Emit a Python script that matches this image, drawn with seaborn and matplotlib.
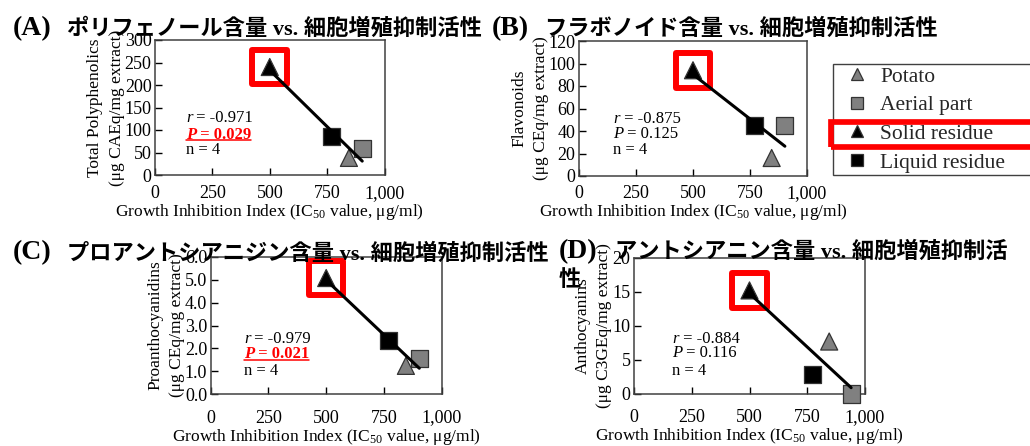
import matplotlib
matplotlib.use("Agg")
import matplotlib.pyplot as plt
import numpy as np
import pandas as pd
import seaborn as sns
from matplotlib.lines import Line2D
from matplotlib.patches import Rectangle

# ---------------- data ----------------
samples = ["Potato", "Aerial part", "Solid residue", "Liquid residue"]
ic50_abc = [845, 903, 500, 770]
ic50_d = [845, 940, 500, 772]
polyphenolics = [38, 58, 240, 85]
flavonoids = [16, 45, 94, 45]
proanthocyanidins = [1.24, 1.57, 5.07, 2.33]
anthocyanins = [7.7, 0.0, 15.2, 2.9]

r_texts = ["-0.971", "-0.875", "-0.979", "-0.884"]
p_texts = ["0.029", "0.125", "0.021", "0.116"]
p_significant = [True, False, True, False]
n_texts = ["4", "4", "4", "4"]

panel_letters = ["(A)", "(B)", "(C)", "(D)"]
panel_titles = ["ポリフェノール含量 vs. 細胞増殖抑制活性",
                "フラボノイド含量 vs. 細胞増殖抑制活性",
                "プロアントシアニジン含量 vs. 細胞増殖抑制活性",
                "アントシアニン含量 vs. 細胞増殖抑制活"]
title_d_wrap = "性"
y_labels = ["Total Polyphenolics\n(μg CAEq/mg extract)",
            "Flavonoids\n(μg CEq/mg extract)",
            "Proanthocyanidins\n(μg CEq/mg extract)",
            "Anthocyanins\n(μg C3GEq/mg extract)"]
x_label = "Growth Inhibition Index (IC$_{50}$ value, μg/ml)"

x_ticks = [0, 250, 500, 750, 1000]
x_tick_labels = ["0", "250", "500", "750", "1,000"]
y_ticks = [[0, 50, 100, 150, 200, 250, 300],
           [0, 20, 40, 60, 80, 100, 120],
           [0, 1, 2, 3, 4, 5, 6],
           [0, 5, 10, 15, 20]]
y_tick_labels = [["0", "50", "100", "150", "200", "250", "300"],
                 ["0", "20", "40", "60", "80", "100", "120"],
                 ["0.0", "1.0", "2.0", "3.0", "4.0", "5.0", "6.0"],
                 ["0", "5", "10", "15", "20"]]

ic50_sets = [ic50_abc, ic50_abc, ic50_abc, ic50_d]
value_sets = [polyphenolics, flavonoids, proanthocyanidins, anthocyanins]

# ---------------- style ----------------
sns.set_theme(style="white")
plt.rcParams["font.family"] = ["Liberation Serif", "Noto Sans CJK JP"]
plt.rcParams["mathtext.fontset"] = "custom"
plt.rcParams["mathtext.rm"] = "Liberation Serif"
plt.rcParams["mathtext.it"] = "Liberation Serif:italic"
plt.rcParams["mathtext.bf"] = "Liberation Serif:bold"
plt.rcParams["axes.unicode_minus"] = False

palette = {"Potato": "#808080", "Aerial part": "#808080",
           "Solid residue": "#000000", "Liquid residue": "#000000"}
markers = {"Potato": "^", "Aerial part": "s",
           "Solid residue": "^", "Liquid residue": "s"}

W, H = 1030, 446
fig = plt.figure(figsize=(W / 100, H / 100), dpi=100)
fig.patch.set_facecolor("white")

axes_px = [(155, 384.5, 40, 175), (579, 807, 41, 176),
           (210.7, 441.7, 256.7, 394.3), (634, 865, 257.7, 394)]
ann_x = [0.135, 0.150, 0.144, 0.165]
ann_y = [(0.389, 0.270, 0.159), (0.395, 0.279, 0.163),
         (0.371, 0.262, 0.141), (0.372, 0.268, 0.139)]
xtick_pads = [7, 6.5, 11, 11]

letter_x = [12.7, 491.7, 12.7, 558.3]
jp_x = [67, 545, 67, 615]
title_base = [35, 35, 259.5, 258.3]

RED = "#ff0000"
underline_pairs = []

for i in range(4):
    l, r, t, b = axes_px[i]
    ax = fig.add_axes([l / W, 1 - b / H, (r - l) / W, (b - t) / H])
    ax.set_facecolor("white")
    df = pd.DataFrame({"sample": samples, "ic50": ic50_sets[i], "value": value_sets[i]})
    solid = df[df["sample"] == "Solid residue"]
    ax.scatter(solid["ic50"], solid["value"], marker="s", s=620, facecolors="none",
               edgecolors=RED, linewidths=4.3, zorder=2, clip_on=False)
    sns.scatterplot(data=df, x="ic50", y="value", hue="sample", style="sample",
                    palette=palette, markers=markers, s=150, edgecolor="#333333",
                    linewidth=0.9, legend=False, ax=ax, zorder=3, clip_on=False)
    sns.regplot(data=df, x="ic50", y="value", scatter=False, ci=None, color="black",
                truncate=True, line_kws=dict(lw=2.2, zorder=4), ax=ax)

    ax.set_xlim(0, 1000)
    ax.set_ylim(y_ticks[i][0], y_ticks[i][-1])
    ax.set_xticks(x_ticks)
    ax.set_xticklabels(x_tick_labels)
    ax.set_yticks(y_ticks[i])
    ax.set_yticklabels(y_tick_labels[i])
    ax.tick_params(axis="both", direction="in", length=5, width=1, colors="#000000",
                   labelsize=13)
    ax.tick_params(axis="x", pad=xtick_pads[i], bottom=True)
    ax.tick_params(axis="y", pad=2.5, left=True)
    for sp in ax.spines.values():
        sp.set_visible(True)
        sp.set_color("#404040")
        sp.set_linewidth(1.1)
    ax.set_xlabel(x_label, fontsize=12.5, labelpad=0, color="black")
    ax.set_ylabel(y_labels[i], fontsize=12.5, labelpad=0, linespacing=1.45, color="black")

    # statistics text
    fs = 12
    ys = ann_y[i]
    t1 = ax.text(ann_x[i], ys[0], "r", transform=ax.transAxes, fontsize=fs,
                 style="italic", va="baseline", color="black")
    ax.annotate(" = " + r_texts[i], xy=(1, 0), xycoords=t1, va="bottom",
                fontsize=fs, color="black")
    if p_significant[i]:
        p1 = ax.text(ann_x[i], ys[1], "P", transform=ax.transAxes, fontsize=fs,
                     style="italic", weight="bold", va="baseline", color=RED)
        p2 = ax.annotate(" = " + p_texts[i], xy=(1, 0), xycoords=p1, va="bottom",
                         fontsize=fs, weight="bold", color=RED)
        underline_pairs.append((p1, p2))
    else:
        p1 = ax.text(ann_x[i], ys[1], "P", transform=ax.transAxes, fontsize=fs,
                     style="italic", va="baseline", color="black")
        ax.annotate(" = " + p_texts[i], xy=(1, 0), xycoords=p1, va="bottom",
                    fontsize=fs, color="black")
    ax.text(ann_x[i], ys[2], "n = " + n_texts[i], transform=ax.transAxes, fontsize=fs,
            va="baseline", color="black")

    # panel titles
    fig.text(letter_x[i] / W, 1 - title_base[i] / H, panel_letters[i], fontsize=20,
             weight="bold", va="baseline", ha="left", color="black", zorder=10)
    fig.text(jp_x[i] / W, 1 - title_base[i] / H, panel_titles[i], fontsize=16,
             weight="bold", va="baseline", ha="left", color="black", zorder=10)

fig.text(letter_x[3] / W, 1 - 286 / H, title_d_wrap, fontsize=16, weight="bold",
         va="baseline", ha="left", color="black", zorder=10)

# legend
handles = [Line2D([], [], marker=markers[s], linestyle="none", color="none",
                  markerfacecolor=palette[s], markeredgecolor="#333333",
                  markeredgewidth=0.9, markersize=8.5) for s in samples]
leg_top, leg_h = 64, 113
leg = fig.legend(handles, samples, loc="upper left",
                 bbox_to_anchor=(832.7 / W, 1 - (leg_top + leg_h) / H,
                                 (1045 - 832.7) / W, leg_h / H),
                 mode="expand", fontsize=15.5, frameon=True, fancybox=False,
                 edgecolor="#404040", framealpha=1, borderpad=0.12, handlelength=2.0,
                 handletextpad=0.1, labelspacing=0.4, borderaxespad=0)
leg.get_frame().set_linewidth(1.0)

# decorations needing rendered extents
fig.canvas.draw()
renderer = fig.canvas.get_renderer()
for p1, p2 in underline_pairs:
    b1 = p1.get_window_extent(renderer)
    b2 = p2.get_window_extent(renderer)
    y = b1.y0 + 2.2
    fig.add_artist(Line2D([b1.x0 / W, b2.x1 / W], [y / H, y / H], color=RED, lw=1.1,
                          transform=fig.transFigure))

solid_text = [tx for tx in leg.get_texts() if tx.get_text() == "Solid residue"][0]
bt = solid_text.get_window_extent(renderer)
bf = leg.get_window_extent(renderer)
yc = (bt.y0 + bt.y1) / 2
x0 = bf.x0 - 2
fig.add_artist(Rectangle((x0 / W, (yc - 12.7) / H), (W + 10 - x0) / W, 25.4 / H,
                         fill=False, edgecolor=RED, lw=4.1, transform=fig.transFigure,
                         clip_on=False, zorder=20))

fig.savefig("out.png", dpi=100, facecolor="white")
